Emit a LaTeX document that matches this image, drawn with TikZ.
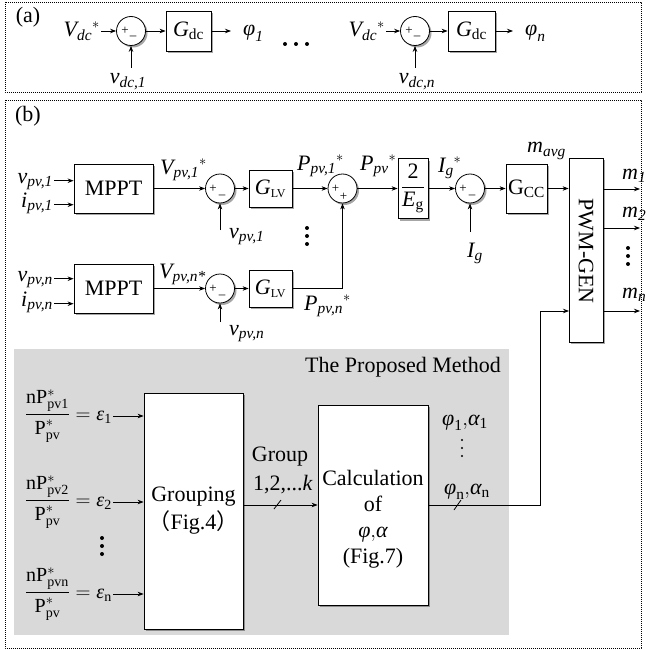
\documentclass[tikz,border=0pt]{standalone}
\usepackage{amsmath}
\usepackage{fontspec}
\setmainfont{Liberation Serif}
\newfontfamily\cjk{Noto Sans CJK SC}
\usetikzlibrary{arrows.meta,shadows}
\newcommand\iv[1]{\text{\itshape #1}}
\newcommand\uv[1]{\text{\upshape #1}}
\begin{document}
\begin{tikzpicture}[x=1pt,y=-1pt,
 every node/.style={font=\fontsize{22}{26}\selectfont, inner sep=1pt},
 shd/.style={drop shadow={shadow xshift=2pt,shadow yshift=-2pt,opacity=0.35,fill=black}},
 blk/.style={draw,fill=white,line width=0.8pt,inner sep=0pt,shd},
 sumc/.style={circle,draw,fill=white,minimum size=29pt,inner sep=0pt,line width=0.8pt,shd},
 sgn/.style={font=\fontsize{13}{13}\selectfont,inner sep=0pt},
 arr/.style={-{Stealth[length=6pt,width=4.5pt]},line width=0.8pt},
 ln/.style={line width=0.8pt},
 frm/.style={line width=0.7pt,dash pattern=on 0.9pt off 1.1pt},
 frac/.style={font=\fontsize{20}{24}\selectfont}
]
\useasboundingbox (0,0) rectangle (645,650);
\draw[frm] (5,2) rectangle (641,92);
\draw[frm] (5,100) rectangle (641,648);
\fill[black!15] (14,349) rectangle (509,635);

% ---------- panel (a)
\node (la) at (28,17) {(a)};
\node[anchor=base east] (vd1) at (101,37) {${\iv{V}_{\iv{dc}}}^{*}$};
\node[sumc] (s1) at (131,31) {};
\node[sgn] at ([shift={(-6,0)}]s1.center) {+};
\node[sgn] at ([shift={(2,7)}]s1.center) {–};
\node[blk,minimum width=45pt,minimum height=40pt] (g1) at (188.5,31) {$\iv{G}_{\uv{dc}}$};
\node[anchor=base west] (p1) at (242,36) {$\iv{φ}_{\iv{1}}$};
\coordinate (f1) at (131,68);
\node[anchor=base] (vf1) at (128,84) {$\iv{v}_{\iv{dc,1}}$};
\draw[arr] (vd1.east |- s1) -- (s1);
\draw[arr] (s1) -- (g1);
\draw[arr,shorten >=11pt] (g1) -- (g1 -| p1.west);
\draw[arr] (f1) -- (s1);
\fill (285,44) circle (2) (296,44) circle (2) (307,44) circle (2);

\node[anchor=base east] (vd2) at (386,37) {${\iv{V}_{\iv{dc}}}^{*}$};
\node[sumc] (s2) at (415,31) {};
\node[sgn] at ([shift={(-6,0)}]s2.center) {+};
\node[sgn] at ([shift={(2,7)}]s2.center) {–};
\node[blk,minimum width=47pt,minimum height=40pt] (g2) at (471.5,31) {$\iv{G}_{\uv{dc}}$};
\node[anchor=base west] (pn) at (524,36) {$\iv{φ}_{\iv{n}}$};
\coordinate (f2) at (415,68);
\node[anchor=base] (vf2) at (417,84) {$\iv{v}_{\iv{dc,n}}$};
\draw[arr] (vd2.east |- s2) -- (s2);
\draw[arr] (s2) -- (g2);
\draw[arr,shorten >=11pt] (g2) -- (g2 -| pn.west);
\draw[arr] (f2) -- (s2);

% ---------- panel (b)
\node (lb) at (28,116) {(b)};
% row 1
\node[blk,minimum width=79pt,minimum height=49pt] (mp1) at (113.5,188.5) {MPPT};
\node[anchor=base east] (vp1) at (54,183) {$\iv{v}_{\iv{pv,1}}$};
\node[anchor=base east] (ip1) at (54,207) {$\iv{i}_{\iv{pv,1}}$};
\draw[arr] (vp1.mid east) -- (vp1.mid east -| mp1.west);
\draw[arr] (ip1.mid east) -- (ip1.mid east -| mp1.west);
\node[sumc] (sa1) at (220,188.5) {};
\node[sgn] at ([shift={(-7,0)}]sa1.center) {+};
\node[sgn] at ([shift={(2,8)}]sa1.center) {–};
\node[blk,minimum width=43pt,minimum height=37pt] (gl1) at (270.5,188.5) {$\iv{G}_{\text{\upshape\fontsize{12}{12}\selectfont LV}}$};
\node[sumc] (sb) at (342.5,188.5) {};
\node[sgn] at ([shift={(-7,0)}]sb.center) {+};
\node[sgn] at ([shift={(1,8)}]sb.center) {+};
\node[blk,minimum width=30pt,minimum height=60pt] (eg) at (413,188.5) {$\dfrac{\uv{2}}{\iv{E}_{\uv{g}}}$};
\node[sumc] (sc) at (470,188.5) {};
\node[sgn] at ([shift={(-7,0)}]sc.center) {+};
\node[sgn] at ([shift={(2,8)}]sc.center) {–};
\node[blk,minimum width=41pt,minimum height=49pt] (gcc) at (526.5,188.5) {$\uv{G}_{\uv{CC}}$};
\node[blk,minimum width=34pt,minimum height=184pt] (pwm) at (586,250) {};
\node[rotate=-90] (pwmt) at (586,251) {PWM-GEN};
\draw[arr] (mp1) -- (sa1);
\draw[arr] (sa1) -- (gl1);
\draw[arr] (gl1) -- (sb);
\draw[arr] (sb) -- (eg);
\draw[arr] (eg) -- (sc);
\draw[arr] (sc) -- (gcc);
\draw[arr] (gcc) -- (gcc -| pwm.west);
% row n
\node[blk,minimum width=79pt,minimum height=49pt] (mpn) at (113.5,288.5) {MPPT};
\node[anchor=base east] (vpn) at (54,281) {$\iv{v}_{\iv{pv,n}}$};
\node[anchor=base east] (ipn) at (54,306) {$\iv{i}_{\iv{pv,n}}$};
\draw[arr] (vpn.mid east) -- (vpn.mid east -| mpn.west);
\draw[arr] (ipn.mid east) -- (ipn.mid east -| mpn.west);
\node[sumc] (san) at (220,288.5) {};
\node[sgn] at ([shift={(-7,0)}]san.center) {+};
\node[sgn] at ([shift={(2,8)}]san.center) {–};
\node[blk,minimum width=43pt,minimum height=37pt] (gln) at (270.5,288.5) {$\iv{G}_{\text{\upshape\fontsize{12}{12}\selectfont LV}}$};
\draw[arr] (mpn) -- (san);
\draw[arr] (san) -- (gln);
\draw[arr] (gln) -| (sb);
% feedbacks
\coordinate (fb1) at (220,230);
\coordinate (fbn) at (220,322);
\coordinate (fbg) at (470,232);
\draw[arr] (fb1) -- (sa1);
\draw[arr] (fbn) -- (san);
\draw[arr] (fbg) -- (sc);
% labels
\node[anchor=base west] (lv1) at (159,174) {${\iv{V}_{\iv{pv,1}}}^{*}$};
\node[anchor=base west] (lvn) at (158,278) {$\iv{V}_{\iv{pv,n*}}$};
\node[anchor=base west] (lf1) at (228,238) {$\iv{v}_{\iv{pv,1}}$};
\node[anchor=base west] (lfn) at (228,335) {$\iv{v}_{\iv{pv,n}}$};
\node[anchor=base west] (lp1) at (296,170) {${\iv{P}_{\iv{pv,1}}}^{*}$};
\node[anchor=base west] (lpp) at (359,170) {${\iv{P}_{\iv{pv}}}^{*}$};
\node[anchor=base west] (lpn) at (303,310) {${\iv{P}_{\iv{pv,n}}}^{*}$};
\node[anchor=base west] (lig) at (437,172) {${\iv{I}_{\iv{g}}}^{*}$};
\node[anchor=base west] (lg) at (466,257) {$\iv{I}_{\iv{g}}$};
\node[anchor=base west] (lm) at (526,153) {$\iv{m}_{\iv{avg}}$};
\node[anchor=base west] (lm1) at (621,179) {$\iv{m}_{\iv{1}}$};
\node[anchor=base west] (lm2) at (621,217) {$\iv{m}_{\iv{2}}$};
\node[anchor=base west] (lmn) at (621,298) {$\iv{m}_{\iv{n}}$};
\coordinate (o1) at (640,189);
\coordinate (o2) at (640,228);
\coordinate (on) at (640,311);
\draw[arr] (pwm.east |- o1) -- (o1);
\draw[arr] (pwm.east |- o2) -- (o2);
\draw[arr] (pwm.east |- on) -- (on);
\fill (628,248) circle (2) (628,256) circle (2) (628,264) circle (2);
\fill (307,228) circle (2) (307,236) circle (2) (307,244) circle (2);

% ---------- proposed method
\node (pm) at (403,367) {The Proposed Method};
\node[blk,minimum width=99pt,minimum height=236pt,align=center] (grp) at (193.5,511) {Grouping\\[2pt]{\cjk （}Fig.4{\cjk ）}};
\node[blk,minimum width=110pt,minimum height=200pt] (calc) at (373,505) {};
\node[align=center] (calct) at (373,519) {Calculation\\of\\$\iv{φ}{,}\iv{α}$\\(Fig.7)};
\node[frac,anchor=east] (e1) at (113,416) {$\dfrac{\uv{nP}^{*}_{\uv{pv1}}}{\uv{P}^{*}_{\uv{pv}}}=\iv{ε}_{\uv{1}}$};
\node[frac,anchor=east] (e2) at (113,502) {$\dfrac{\uv{nP}^{*}_{\uv{pv2}}}{\uv{P}^{*}_{\uv{pv}}}=\iv{ε}_{\uv{2}}$};
\node[frac,anchor=east] (en) at (113,594) {$\dfrac{\uv{nP}^{*}_{\uv{pvn}}}{\uv{P}^{*}_{\uv{pv}}}=\iv{ε}_{\uv{n}}$};
\draw[arr] (e1) -- (e1 -| grp.west);
\draw[arr] (e2) -- (e2 -| grp.west);
\draw[arr] (en) -- (en -| grp.west);
\fill (102,538) circle (2) (102,546) circle (2) (102,554) circle (2);
\draw[arr] (grp.east |- calc) -- (calc.west);
\draw[ln] (274,509) -- (281,500);
\node (gl) at (280,457) {Group};
\node (gn) at (283,485) {1,2,...\textit{k}};
\coordinate (bend) at (540,505);
\coordinate (pin) at (569,311);
\draw[arr] (calc.east) -- (bend) |- (pin);
\draw[ln] (454,510) -- (461,500);
\node (pa1) at (465,423) {$\iv{φ}_{\uv{1}}{,}\iv{α}_{\uv{1}}$};
\node (pan) at (467,492) {$\iv{φ}_{\uv{n}}{,}\iv{α}_{\uv{n}}$};
\fill (462,440) circle (1.2) (462,448) circle (1.2) (462,456) circle (1.2);
\end{tikzpicture}
\end{document}
